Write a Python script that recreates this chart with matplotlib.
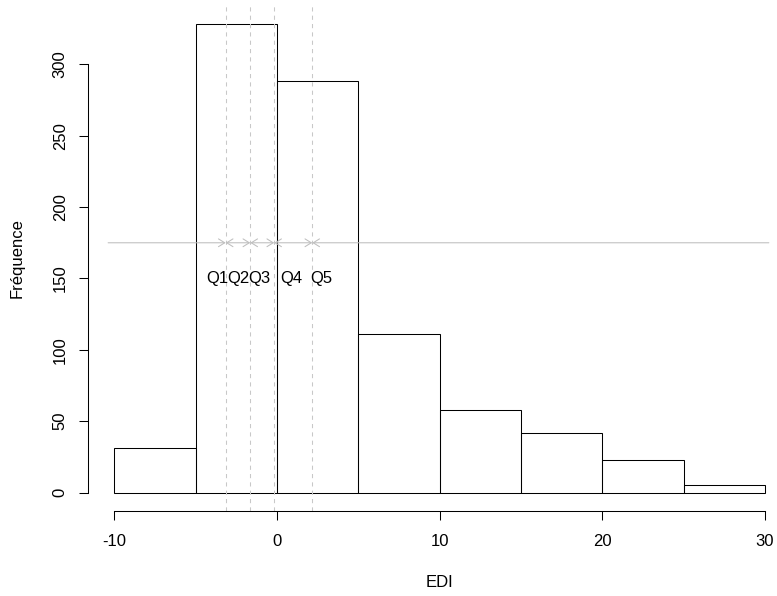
import matplotlib
matplotlib.use('Agg')
import matplotlib.pyplot as plt

# histogram of EDI (bins of width 5)
binEdges = [-10, -5, 0, 5, 10, 15, 20, 25, 30]
counts = [31, 328, 288, 111, 58, 42, 23, 5]

# quintile cut points (dashed lines) and the range of the arrow line
quintBreaks = [-3.15, -1.64, -0.17, 2.17]
ediMin, ediMax = -10.38, 30.24
arrowY = 175

# Q labels
qLabels = ['Q1', 'Q2', 'Q3', 'Q4', 'Q5']
qLabelX = [-3.67, -2.4, -1.06, 0.86, 2.7]
qLabelY = 150

plt.rcParams['font.family'] = ['Liberation Sans', 'DejaVu Sans']
plt.rcParams['axes.unicode_minus'] = False

fig = plt.figure(figsize=(7.77, 5.96), dpi=100)
ax = fig.add_axes([0.1136, 0.142, 0.9044, 0.8486])

lw = 0.75
fs = 12
ax.bar(binEdges[:-1], counts, width=[b - a for a, b in zip(binEdges[:-1], binEdges[1:])],
       align='edge', fill=False, edgecolor='black', linewidth=lw)

# horizontal line with arrow heads pointing at each cut point
pts = [ediMin] + quintBreaks + [ediMax]
nSeg = len(pts) - 1
for i, (a, b) in enumerate(zip(pts[:-1], pts[1:])):
    if i == 0:
        style = '->'
    elif i == nSeg - 1:
        style = '<-'
    else:
        style = '<->'
    ax.annotate('', xy=(b, arrowY), xytext=(a, arrowY),
                arrowprops=dict(arrowstyle=style + ',head_length=0.45,head_width=0.28',
                                color='#bebebe', lw=lw, shrinkA=0, shrinkB=0))

for q in quintBreaks:
    ax.axvline(q, color='#c8c8c8', linestyle=(0, (4, 4)), linewidth=lw)

for lab, x in zip(qLabels, qLabelX):
    ax.text(x, qLabelY, lab, ha='center', va='center', fontsize=fs)

ax.set_xlim(-11.6, 31.6)
ax.set_ylim(-13.12, 341.12)

ax.spines['top'].set_visible(False)
ax.spines['right'].set_visible(False)
ax.spines['left'].set_bounds(0, 300)
ax.spines['bottom'].set_bounds(-10, 30)
ax.spines['left'].set_linewidth(lw)
ax.spines['bottom'].set_linewidth(lw)

ax.set_xticks([-10, 0, 10, 20, 30])
ax.set_yticks(range(0, 301, 50))
ax.tick_params(axis='both', length=6.8, width=lw, labelsize=fs, colors='black')
ax.tick_params(axis='x', pad=9.5)
ax.tick_params(axis='y', pad=8)
for t in ax.get_yticklabels():
    t.set_rotation(90)
    t.set_va('center')

ax.set_xlabel('EDI', fontsize=fs, labelpad=19)
ax.set_ylabel('Fréquence', fontsize=fs, labelpad=20)

fig.savefig('out.png', dpi=100)
